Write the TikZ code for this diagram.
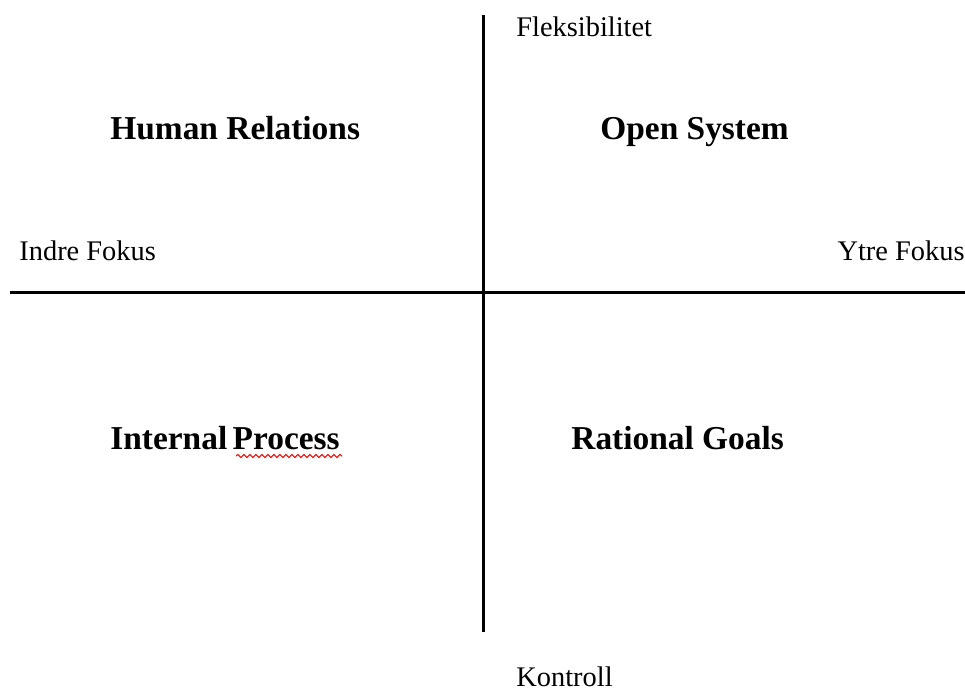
\documentclass[tikz,border=0pt]{standalone}
\usepackage{fontspec}
\setmainfont{Liberation Serif}
\usetikzlibrary{positioning, decorations.pathmorphing}

\begin{document}
\begin{tikzpicture}[x=0.5pt, y=-0.5pt,
                axis/.style={draw, line width=1.5pt},
                label/.style={inner sep=0pt, anchor=base west, font=\fontsize{14.2}{17}\selectfont},
                quadrant/.style={inner sep=0pt, anchor=base west, font=\fontsize{16.7}{20}\selectfont\bfseries},
                typo/.style={draw=red, line width=0.5pt, decorate, decoration={snake, amplitude=0.8pt, segment length=3pt}}
            ]

            \useasboundingbox (0,0) rectangle (965,691);

            % the two axes
            \coordinate (top) at (483,15);
            \coordinate (bottom) at (483,632);
            \coordinate (left) at (10,292);
            \coordinate (right) at (965,292);
            \draw [axis] (top) -- (bottom);
            \draw [axis] (left) -- (right);

            % axis ends
            \node (flex) [label] at (516,36) {Fleksibilitet};
            \node (kontroll) [label] at (516,686) {Kontroll};
            \node (indre) [label] at (19,260) {Indre Fokus};
            \node (ytre) [label, anchor=base east] at (965,260) {Ytre Fokus};

            % quadrants
            \node (human) [quadrant] at (110,139) {Human Relations};
            \node (open) [quadrant] at (600,139) {Open System};
            \node (internal) [quadrant] at (110,449) {Internal\hspace{-1.5pt} Process};
            \node (rational) [quadrant] at (571,449) {Rational Goals};

            \coordinate (sq1) at (236,456);
            \coordinate (sq2) at (342,456);
            \draw [typo] (sq1) -- (sq2);
        \end{tikzpicture}
\end{document}
